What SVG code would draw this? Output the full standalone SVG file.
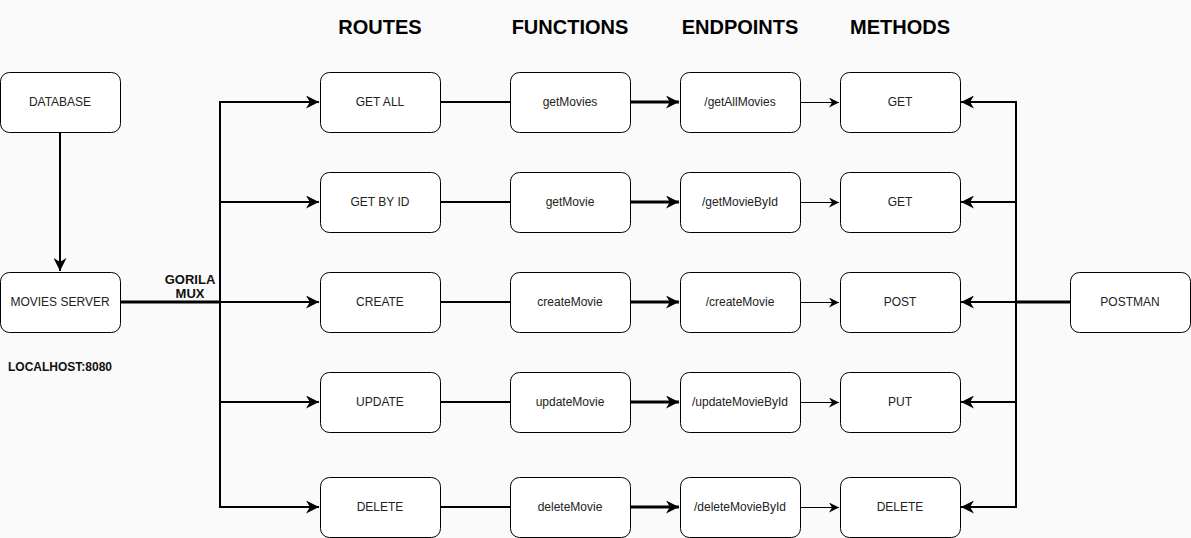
<svg xmlns="http://www.w3.org/2000/svg" width="1191" height="538" viewBox="0 0 1191 538">
<defs>
<style>
.n rect{fill:#fff;stroke:#000;stroke-width:1}
.n text{font-family:"Liberation Sans",Arial,sans-serif;font-size:12px;fill:#222;text-anchor:middle;dominant-baseline:central}
.h{font-family:"Liberation Sans",Arial,sans-serif;font-size:20px;font-weight:bold;fill:#000;text-anchor:middle}
.lb{font-family:"Liberation Sans",Arial,sans-serif;font-weight:bold;fill:#111}
.c path,.c line{fill:none;stroke:#000}
</style>
<marker id="a" viewBox="0 0 10 10" refX="10" refY="5" markerWidth="10" markerHeight="10" markerUnits="userSpaceOnUse" orient="auto">
<path d="M0,0 L10,5 L0,10 L3,5 Z" fill="#000"/>
</marker>
<marker id="a2" viewBox="0 0 10 10" refX="10" refY="5" markerWidth="13" markerHeight="13" markerUnits="userSpaceOnUse" orient="auto">
<path d="M0,0 L10,5 L0,10 L3,5 Z" fill="#000"/>
</marker>
</defs>
<rect width="1191" height="538" fill="#fafafa"/>
<text class="h" x="380" y="34">ROUTES</text>
<text class="h" x="570" y="34">FUNCTIONS</text>
<text class="h" x="740" y="34">ENDPOINTS</text>
<text class="h" x="900" y="34">METHODS</text>
<g class="c">
<line x1="60" y1="132" x2="60" y2="271" stroke-width="2" marker-end="url(#a2)"/>
<line x1="120" y1="302" x2="220" y2="302" stroke-width="3"/>
<line x1="220" y1="101" x2="220" y2="508" stroke-width="2"/>
<line x1="220" y1="102" x2="319" y2="102" stroke-width="2" marker-end="url(#a2)"/>
<line x1="220" y1="202" x2="319" y2="202" stroke-width="2" marker-end="url(#a2)"/>
<line x1="220" y1="302" x2="319" y2="302" stroke-width="2" marker-end="url(#a2)"/>
<line x1="220" y1="402" x2="319" y2="402" stroke-width="2" marker-end="url(#a2)"/>
<line x1="220" y1="507" x2="319" y2="507" stroke-width="2" marker-end="url(#a2)"/>
<line x1="440" y1="102" x2="510" y2="102" stroke-width="2"/>
<line x1="440" y1="202" x2="510" y2="202" stroke-width="2"/>
<line x1="440" y1="302" x2="510" y2="302" stroke-width="2"/>
<line x1="440" y1="402" x2="510" y2="402" stroke-width="2"/>
<line x1="440" y1="507" x2="510" y2="507" stroke-width="2"/>
<line x1="630" y1="102" x2="679" y2="102" stroke-width="3" marker-end="url(#a2)"/>
<line x1="630" y1="202" x2="679" y2="202" stroke-width="3" marker-end="url(#a2)"/>
<line x1="630" y1="302" x2="679" y2="302" stroke-width="3" marker-end="url(#a2)"/>
<line x1="630" y1="402" x2="679" y2="402" stroke-width="3" marker-end="url(#a2)"/>
<line x1="630" y1="507" x2="679" y2="507" stroke-width="3" marker-end="url(#a2)"/>
<line x1="800" y1="102.5" x2="839" y2="102.5" stroke-width="1" marker-end="url(#a)"/>
<line x1="800" y1="202.5" x2="839" y2="202.5" stroke-width="1" marker-end="url(#a)"/>
<line x1="800" y1="302.5" x2="839" y2="302.5" stroke-width="1" marker-end="url(#a)"/>
<line x1="800" y1="402.5" x2="839" y2="402.5" stroke-width="1" marker-end="url(#a)"/>
<line x1="800" y1="507.5" x2="839" y2="507.5" stroke-width="1" marker-end="url(#a)"/>
<line x1="1070" y1="302" x2="1016" y2="302" stroke-width="3"/>
<line x1="1016" y1="101" x2="1016" y2="508" stroke-width="2"/>
<line x1="1016" y1="102" x2="961" y2="102" stroke-width="2" marker-end="url(#a2)"/>
<line x1="1016" y1="202" x2="961" y2="202" stroke-width="2" marker-end="url(#a2)"/>
<line x1="1016" y1="302" x2="961" y2="302" stroke-width="2" marker-end="url(#a2)"/>
<line x1="1016" y1="402" x2="961" y2="402" stroke-width="2" marker-end="url(#a2)"/>
<line x1="1016" y1="507" x2="961" y2="507" stroke-width="2" marker-end="url(#a2)"/>
</g>
<text class="lb" font-size="13" x="190" y="284" text-anchor="middle">GORILA</text>
<text class="lb" font-size="13" x="190" y="298" text-anchor="middle">MUX</text>
<text class="lb" font-size="12" x="8" y="371">LOCALHOST:8080</text>
<g id="database" class="n"><rect x="0.5" y="72.5" width="120" height="60" rx="9"/><text x="60" y="102">DATABASE</text></g>
<g id="movies-server" class="n"><rect x="0.5" y="272.5" width="120" height="60" rx="9"/><text x="60" y="302">MOVIES SERVER</text></g>
<g id="route-getall" class="n"><rect x="320.5" y="72.5" width="120" height="60" rx="9"/><text x="380" y="102">GET ALL</text></g>
<g id="route-getbyid" class="n"><rect x="320.5" y="172.5" width="120" height="60" rx="9"/><text x="380" y="202">GET BY ID</text></g>
<g id="route-create" class="n"><rect x="320.5" y="272.5" width="120" height="60" rx="9"/><text x="380" y="302">CREATE</text></g>
<g id="route-update" class="n"><rect x="320.5" y="372.5" width="120" height="60" rx="9"/><text x="380" y="402">UPDATE</text></g>
<g id="route-delete" class="n"><rect x="320.5" y="477.5" width="120" height="60" rx="9"/><text x="380" y="507">DELETE</text></g>
<g id="fn-getmovies" class="n"><rect x="510.5" y="72.5" width="120" height="60" rx="9"/><text x="570" y="102">getMovies</text></g>
<g id="fn-getmovie" class="n"><rect x="510.5" y="172.5" width="120" height="60" rx="9"/><text x="570" y="202">getMovie</text></g>
<g id="fn-createmovie" class="n"><rect x="510.5" y="272.5" width="120" height="60" rx="9"/><text x="570" y="302">createMovie</text></g>
<g id="fn-updatemovie" class="n"><rect x="510.5" y="372.5" width="120" height="60" rx="9"/><text x="570" y="402">updateMovie</text></g>
<g id="fn-deletemovie" class="n"><rect x="510.5" y="477.5" width="120" height="60" rx="9"/><text x="570" y="507">deleteMovie</text></g>
<g id="ep-getallmovies" class="n"><rect x="680.5" y="72.5" width="120" height="60" rx="9"/><text x="740" y="102">/getAllMovies</text></g>
<g id="ep-getmoviebyid" class="n"><rect x="680.5" y="172.5" width="120" height="60" rx="9"/><text x="740" y="202">/getMovieById</text></g>
<g id="ep-createmovie" class="n"><rect x="680.5" y="272.5" width="120" height="60" rx="9"/><text x="740" y="302">/createMovie</text></g>
<g id="ep-updatemoviebyid" class="n"><rect x="680.5" y="372.5" width="120" height="60" rx="9"/><text x="740" y="402">/updateMovieById</text></g>
<g id="ep-deletemoviebyid" class="n"><rect x="680.5" y="477.5" width="120" height="60" rx="9"/><text x="740" y="507">/deleteMovieById</text></g>
<g id="m-get1" class="n"><rect x="840.5" y="72.5" width="120" height="60" rx="9"/><text x="900" y="102">GET</text></g>
<g id="m-get2" class="n"><rect x="840.5" y="172.5" width="120" height="60" rx="9"/><text x="900" y="202">GET</text></g>
<g id="m-post" class="n"><rect x="840.5" y="272.5" width="120" height="60" rx="9"/><text x="900" y="302">POST</text></g>
<g id="m-put" class="n"><rect x="840.5" y="372.5" width="120" height="60" rx="9"/><text x="900" y="402">PUT</text></g>
<g id="m-delete" class="n"><rect x="840.5" y="477.5" width="120" height="60" rx="9"/><text x="900" y="507">DELETE</text></g>
<g id="postman" class="n"><rect x="1070.5" y="272.5" width="120" height="60" rx="9"/><text x="1130" y="302">POSTMAN</text></g>
</svg>
